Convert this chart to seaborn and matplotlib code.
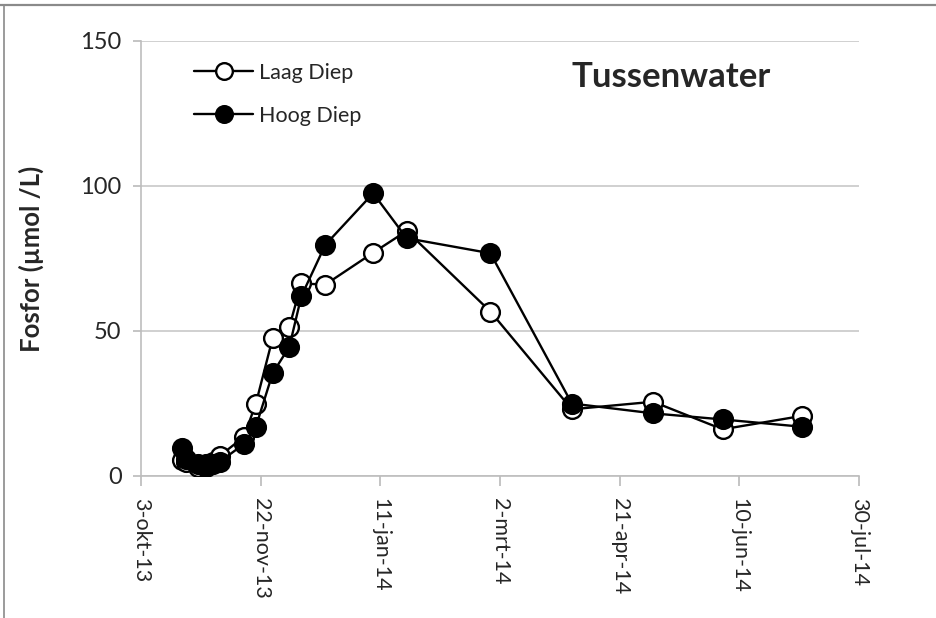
import matplotlib
matplotlib.use("Agg")
import matplotlib.pyplot as plt
from matplotlib.lines import Line2D
import seaborn as sns
import pandas as pd

# Sampling dates and phosphorus concentrations (µmol/L) in pore water
laag_dates = ["2013-10-20", "2013-10-22", "2013-10-27", "2013-10-30", "2013-11-02",
              "2013-11-05", "2013-11-15", "2013-11-20", "2013-11-27", "2013-12-04",
              "2013-12-09", "2013-12-19", "2014-01-08", "2014-01-22", "2014-02-26",
              "2014-04-01", "2014-05-05", "2014-06-03", "2014-07-06"]
laag_values = [5.5, 5, 3, 4, 5, 7, 13.5, 25, 47.5, 51.5, 66.4, 66, 77, 84.5, 56.7,
               23, 25.6, 16.1, 20.7]

hoog_dates = laag_dates
hoog_values = [9.5, 6, 4, 3, 4, 5, 11, 17, 35.4, 44.6, 62, 79.7, 97.5, 82, 76.8,
               25, 21.6, 19.5, 17]

series_names = ["Laag Diep", "Hoog Diep"]
tick_dates = ["2013-10-03", "2013-11-22", "2014-01-11", "2014-03-02",
              "2014-04-21", "2014-06-10", "2014-07-30"]
tick_labels = ["3-okt-13", "22-nov-13", "11-jan-14", "2-mrt-14",
               "21-apr-14", "10-jun-14", "30-jul-14"]

laag = pd.DataFrame({"datum": pd.to_datetime(laag_dates), "fosfor": laag_values})
hoog = pd.DataFrame({"datum": pd.to_datetime(hoog_dates), "fosfor": hoog_values})

sns.set_theme(style="white")
plt.rcParams["font.family"] = ["Lato", "DejaVu Sans"]

fig = plt.figure(figsize=(9.37, 6.18), dpi=100)
ax = fig.add_axes([141 / 937, 1 - 476 / 618, 718 / 937, 435 / 618])

line_kw = dict(color="black", linewidth=1.7, marker="o", markersize=13.5,
               markeredgecolor="black", markeredgewidth=1.7)
sns.lineplot(data=laag, x="datum", y="fosfor", ax=ax, markerfacecolor="white",
             label=series_names[0], zorder=3, **line_kw)
sns.lineplot(data=hoog, x="datum", y="fosfor", ax=ax, markerfacecolor="black",
             label=series_names[1], zorder=4, **line_kw)

ticks = pd.to_datetime(tick_dates)
ax.set_xlim(ticks[0], ticks[-1])
ax.set_xticks(ticks)
ax.set_xticklabels(tick_labels, rotation=270, va="top", ha="center", fontsize=15.5)
ax.set_ylim(0, 150)
ax.set_yticks([0, 50, 100, 150])
ax.tick_params(axis="y", labelsize=17, length=6, color="#bdbdbd", pad=8, left=True)
ax.tick_params(axis="x", length=7, color="#bdbdbd", pad=9, bottom=True, direction="out")
ax.yaxis.grid(True, color="#c8c8c8", linewidth=1.2)
ax.xaxis.grid(False)
for side in ["top", "right"]:
    ax.spines[side].set_visible(False)
for side in ["left", "bottom"]:
    ax.spines[side].set_color("#bdbdbd")
    ax.spines[side].set_linewidth(1.2)

ax.set_xlabel("")
ax.set_ylabel("Fosfor (µmol /L)", fontsize=18.5, fontweight="bold", labelpad=26)

ax.text(0.738, 0.917, "Tussenwater", transform=ax.transAxes, ha="center", va="center",
        fontsize=25, fontweight="bold")

leg = ax.legend(loc="upper left", bbox_to_anchor=(0.062, 0.97), frameon=False,
                fontsize=15.5, handlelength=2.75, handletextpad=0.25, labelspacing=1.07,
                borderaxespad=0.0)
for h in leg.legend_handles:
    h.set_markersize(12)

# outer frame of the chart area
fig.add_artist(Line2D([0, 1], [1 - 5 / 618, 1 - 5 / 618], transform=fig.transFigure,
                      color="#8a8a8a", linewidth=1.6))
fig.add_artist(Line2D([4 / 937, 4 / 937], [0, 1 - 5 / 618], transform=fig.transFigure,
                      color="#8a8a8a", linewidth=1.2))

fig.savefig("out.png", dpi=100)
